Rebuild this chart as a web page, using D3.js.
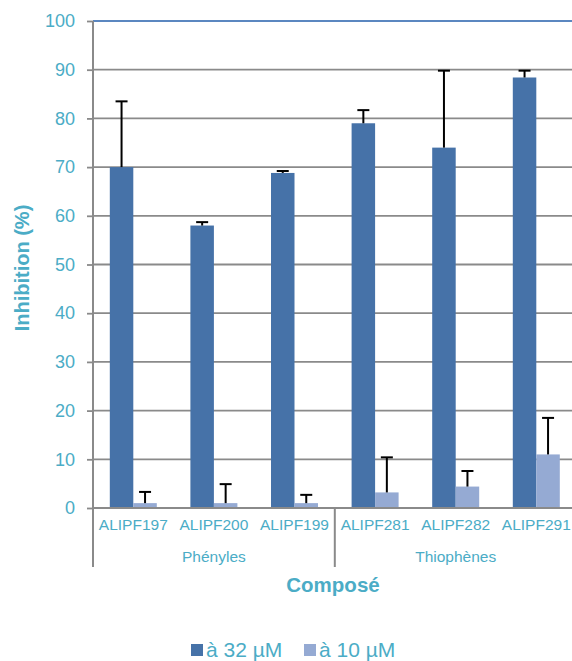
<!DOCTYPE html>
<html><head><meta charset="utf-8">
<script src="https://cdn.jsdelivr.net/npm/d3@7"></script>
<style>body{margin:0;background:#fff}svg{display:block;font-family:"Liberation Sans",Arial,sans-serif}</style>
</head><body><svg id="c" width="572" height="661"></svg>
<script>
const categories = ["ALIPF197","ALIPF200","ALIPF199","ALIPF281","ALIPF282","ALIPF291"];
const groups = [{name:"Phényles", from:0, to:2},{name:"Thiophènes", from:3, to:5}];
const values32 = [70, 58, 68.8, 79, 74, 88.4];
const err32 = [13.5, 0.7, 0.4, 2.7, 15.8, 1.4];
const values10 = [1, 1, 1, 3.2, 4.4, 11];
const err10 = [2.3, 3.9, 1.7, 7.2, 3.2, 7.5];
const seriesNames = ["à 32 µM","à 10 µM"];
const yTicks = [0,10,20,30,40,50,60,70,80,90,100];

const txt = "#4BACC6", c1 = "#4672A8", c2 = "#95AAD3", grid = "#8A8A8A";
const svg = d3.select("#c");
const L = 93, R = 576.6, T = 21, B = 508;
const x = d3.scaleBand().domain(categories).range([L,R]);
const y = d3.scaleLinear().domain([0,100]).range([B,T]);
const bw = 23.5;

// gridlines
svg.append("g").selectAll("line").data(yTicks.filter(d=>d>0)).join("line")
  .attr("x1",L).attr("x2",R).attr("y1",d=>y(d)).attr("y2",d=>y(d))
  .attr("stroke",d=>d===100?"#5B87C0":grid).attr("stroke-width",d=>d===100?2:1.8);

// y axis
const ya = svg.append("g").attr("transform",`translate(${L},0)`)
  .call(d3.axisLeft(y).tickValues(yTicks).tickSize(6).tickPadding(12));
ya.select(".domain").remove();
ya.selectAll(".tick line").attr("stroke",grid).attr("stroke-width",1.8);
ya.selectAll(".tick text").attr("fill",txt).attr("font-size",18).attr("font-family","Liberation Sans, Arial, sans-serif");
svg.append("line").attr("x1",L).attr("x2",L).attr("y1",T).attr("y2",567).attr("stroke",grid).attr("stroke-width",2);

// bars
const g = svg.append("g");
g.selectAll(".b1").data(categories).join("rect").attr("class","b1")
  .attr("x",d=>x(d)+x.bandwidth()/2-bw).attr("width",bw)
  .attr("y",(d,i)=>y(values32[i])).attr("height",(d,i)=>B-y(values32[i])).attr("fill",c1);
g.selectAll(".b2").data(categories).join("rect").attr("class","b2")
  .attr("x",d=>x(d)+x.bandwidth()/2).attr("width",bw)
  .attr("y",(d,i)=>y(values10[i])).attr("height",(d,i)=>B-y(values10[i])).attr("fill",c2);

// error bars
function errs(vals, errsArr, off){
  categories.forEach((c,i)=>{
    const cx = x(c)+x.bandwidth()/2+off;
    const top = y(vals[i]+errsArr[i]);
    g.append("line").attr("x1",cx).attr("x2",cx).attr("y1",y(vals[i])).attr("y2",top).attr("stroke","#000").attr("stroke-width",2);
    g.append("line").attr("x1",cx-6).attr("x2",cx+6).attr("y1",top).attr("y2",top).attr("stroke","#000").attr("stroke-width",2);
  });
}
errs(values32, err32, -bw/2);
errs(values10, err10, bw/2);

// x axis baseline
svg.append("line").attr("x1",L).attr("x2",R).attr("y1",B).attr("y2",B).attr("stroke",grid).attr("stroke-width",2);

// category labels
svg.append("g").selectAll("text").data(categories).join("text")
  .attr("x",d=>x(d)+x.bandwidth()/2).attr("y",530).attr("text-anchor","middle")
  .attr("fill",txt).attr("font-size",15.5).text(d=>d);

// group labels & separators
groups.forEach(gr=>{
  const x0 = x(categories[gr.from]), x1 = x(categories[gr.to])+x.bandwidth();
  svg.append("text").attr("x",(x0+x1)/2).attr("y",562).attr("text-anchor","middle")
    .attr("fill",txt).attr("font-size",15.5).text(gr.name);
  if (gr.from>0) svg.append("line").attr("x1",x0).attr("x2",x0).attr("y1",B).attr("y2",567).attr("stroke",grid).attr("stroke-width",2);
});

// axis titles
svg.append("text").attr("transform",`translate(29,268) rotate(-90)`).attr("text-anchor","middle")
  .attr("fill",txt).attr("font-size",20).attr("font-weight","bold").text("Inhibition (%)");
svg.append("text").attr("x",333).attr("y",592).attr("text-anchor","middle")
  .attr("fill",txt).attr("font-size",20.5).attr("font-weight","bold").text("Composé");

// legend
const lg = svg.append("g");
const lx = [191, 304];
seriesNames.forEach((s,i)=>{
  lg.append("rect").attr("x",lx[i]).attr("y",644).attr("width",12).attr("height",12).attr("fill",i?c2:c1);
  lg.append("text").attr("x",lx[i]+15).attr("y",657).attr("fill",txt).attr("font-size",21).text(s);
});
</script></body></html>
